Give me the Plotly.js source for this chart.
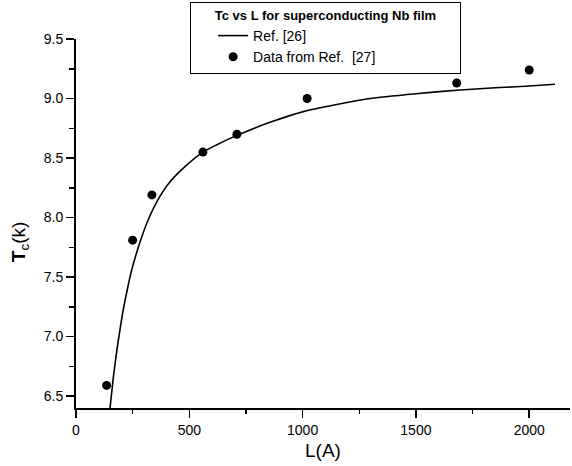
<!DOCTYPE html>
<html>
<head>
<meta charset="utf-8">
<script src="https://cdn.plot.ly/plotly-3.0.1.min.js"></script>
<style>html,body{margin:0;padding:0;background:#fff;}#chart{width:572px;height:466px;}</style>
</head>
<body>
<div id="chart"></div>
<script>
// Ref. [26] theoretical curve
const curveL  = [150, 165, 180, 195, 210, 228, 246, 275, 312, 356, 415, 488, 560, 620, 680, 760, 856, 1003, 1150, 1297, 1500, 1680, 1850, 2000, 2114];
const curveTc = [6.40, 6.66, 6.88, 7.07, 7.24, 7.41, 7.56, 7.75, 7.95, 8.13, 8.30, 8.44, 8.55, 8.61, 8.665, 8.73, 8.80, 8.89, 8.95, 9.00, 9.04, 9.07, 9.09, 9.105, 9.12];
// Data from Ref. [27]
const dataL  = [135, 250, 335, 560, 710, 1020, 1680, 2000];
const dataTc = [6.59, 7.81, 8.19, 8.55, 8.70, 9.00, 9.13, 9.24];
const xTicks = [0, 500, 1000, 1500, 2000];
const yTicks = [6.5, 7.0, 7.5, 8.0, 8.5, 9.0, 9.5];

const font = 'Liberation Sans, Arial, sans-serif';
const NB = '\u00A0';
const traces = [
  {x: curveL, y: curveTc, type: 'scatter', mode: 'lines', name: 'Ref. [26]',
   line: {color: '#000', width: 1.6, shape: 'spline', smoothing: 0.6}},
  {x: dataL, y: dataTc, type: 'scatter', mode: 'markers', name: 'Data from Ref.  [27]',
   marker: {color: '#000', size: 9, symbol: 'circle'}}
];
const layout = {
  width: 572, height: 466,
  margin: {l: 76, r: 2, t: 38.7, b: 58.3},
  paper_bgcolor: '#fff', plot_bgcolor: '#fff',
  font: {family: font, color: '#000', size: 14},
  showlegend: true,
  legend: {
    x: 0.231, y: 1.10, xanchor: 'left', yanchor: 'top',
    bgcolor: '#fff', bordercolor: '#000', borderwidth: 1,
    indentation: 22,
    font: {family: font, size: 14, color: '#000'},
    title: {text: NB.repeat(6) + '<b>Tc vs L for superconducting Nb film</b>' + NB.repeat(6),
            font: {family: font, size: 13, color: '#000'}},
    tracegroupgap: 0
  },
  xaxis: {
    range: [0, 2180], tickmode: 'array', tickvals: xTicks, ticktext: xTicks.map(String),
    ticks: 'outside', ticklen: 8, tickwidth: 1.5, tickcolor: '#000',
    minor: {tickmode: 'linear', tick0: 0, dtick: 250, ticks: 'outside', ticklen: 4, tickwidth: 1.5, tickcolor: '#000'},
    showline: true, linecolor: '#000', linewidth: 2, showgrid: false, zeroline: false,
    tickfont: {family: font, size: 14, color: '#000'},
    title: {text: 'L(A)', font: {family: font, size: 19, color: '#000'}, standoff: 7}
  },
  yaxis: {
    range: [6.40, 9.5], tickmode: 'array', tickvals: yTicks, ticktext: yTicks.map(v => v.toFixed(1)),
    ticks: 'outside', ticklen: 8, tickwidth: 1.5, tickcolor: '#000',
    minor: {tickmode: 'linear', tick0: 6.5, dtick: 0.25, ticks: 'outside', ticklen: 5, tickwidth: 1.5, tickcolor: '#000'},
    showline: true, linecolor: '#000', linewidth: 2, showgrid: false, zeroline: false,
    tickfont: {family: font, size: 14, color: '#000'}
  },
  annotations: [{
    text: '<b>T</b><sub>c</sub>(k)', xref: 'paper', yref: 'paper',
    x: -0.113, y: 0.45, xanchor: 'center', yanchor: 'middle',
    textangle: -90, showarrow: false,
    font: {family: font, size: 19, color: '#000'}
  }]
};
Plotly.newPlot('chart', traces, layout, {displayModeBar: false, staticPlot: true});
</script>
</body>
</html>
